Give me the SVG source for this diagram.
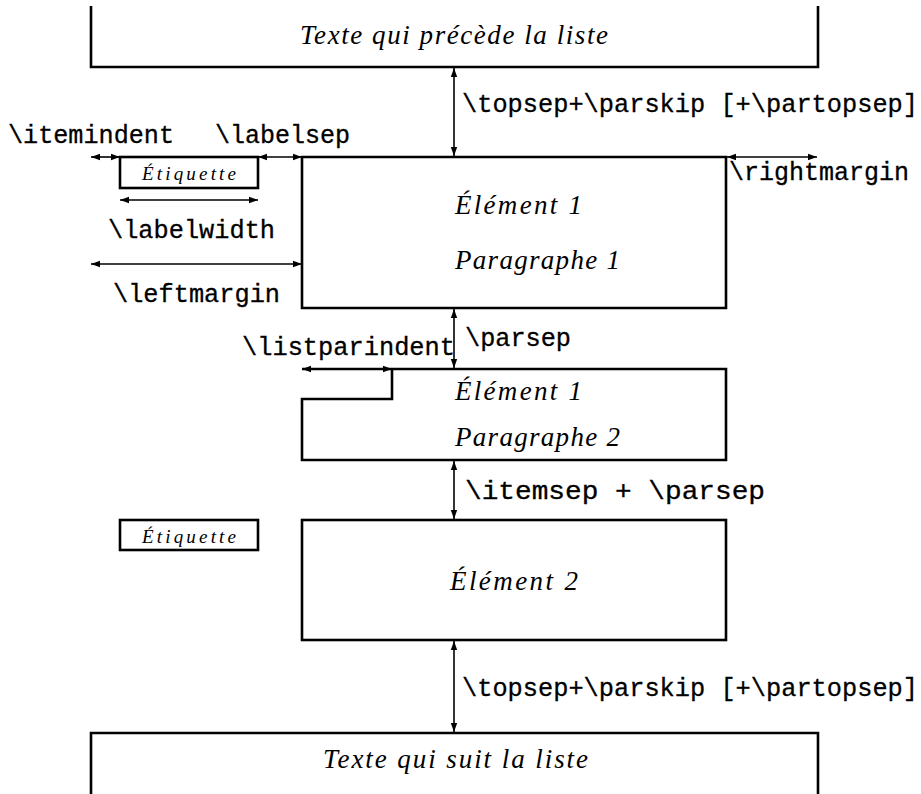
<svg xmlns="http://www.w3.org/2000/svg" width="921" height="794" viewBox="0 0 921 794">
<defs>
<marker id="ah" markerUnits="userSpaceOnUse" markerWidth="10" markerHeight="8" refX="9" refY="4" orient="auto-start-reverse">
<path d="M0,0.8 L9,4 L0,7.2 Z" fill="#000"/>
</marker>
</defs>
<style>
.box{fill:none;stroke:#000;stroke-width:2.6}
.arr{fill:none;stroke:#000;stroke-width:1.6;marker-start:url(#ah);marker-end:url(#ah)}
.tt{font-family:"Liberation Mono","DejaVu Sans Mono",monospace;font-size:25px;fill:#000;stroke:#000;stroke-width:0.3}
.it{font-family:"Liberation Serif","DejaVu Serif",serif;font-style:italic;font-size:27px;fill:#000}
.sm{font-family:"Liberation Serif","DejaVu Serif",serif;font-style:italic;font-size:19px;fill:#000}
</style>
<rect width="921" height="794" fill="#fff"/>

<g id="texte-precede">
<path class="box" d="M91,6 V67 H818 V6"/>
<text class="it" x="300" y="44" textLength="308" lengthAdjust="spacing">Texte qui précède la liste</text>
</g>

<g id="etiquette1">
<rect class="box" x="120" y="157" width="138" height="31"/>
<text class="sm" x="142" y="180" textLength="94" lengthAdjust="spacing">Étiquette</text>
</g>

<g id="element1-par1">
<path class="box" d="M302,157 H726 V308 H302 Z"/>
<text class="it" x="455" y="214" textLength="127" lengthAdjust="spacing">Élément 1</text>
<text class="it" x="455" y="269" textLength="165" lengthAdjust="spacing">Paragraphe 1</text>
</g>

<g id="element1-par2">
<path class="box" d="M302,369 H726 V460 H302 V399 H392 V369"/>
<text class="it" x="455" y="400" textLength="127" lengthAdjust="spacing">Élément 1</text>
<text class="it" x="455" y="446" textLength="165" lengthAdjust="spacing">Paragraphe 2</text>
</g>

<g id="etiquette2">
<rect class="box" x="120" y="520" width="138" height="30"/>
<text class="sm" x="142" y="543" textLength="94" lengthAdjust="spacing">Étiquette</text>
</g>

<g id="element2">
<rect class="box" x="302" y="520" width="424" height="120"/>
<text class="it" x="450" y="590" textLength="128" lengthAdjust="spacing">Élément 2</text>
</g>

<g id="texte-suit">
<path class="box" d="M91,794 V733 H818 V794"/>
<text class="it" x="323" y="768" textLength="265" lengthAdjust="spacing">Texte qui suit la liste</text>
</g>

<g id="connectors">
<line class="arr" x1="454" y1="68" x2="454" y2="156"/>
<line class="arr" x1="91" y1="157" x2="120" y2="157"/>
<line class="arr" x1="258" y1="157" x2="302" y2="157"/>
<line class="arr" x1="120" y1="200" x2="258" y2="200"/>
<line class="arr" x1="91" y1="264" x2="302" y2="264"/>
<line class="arr" x1="727" y1="157" x2="817" y2="157"/>
<line class="arr" x1="454" y1="309" x2="454" y2="368"/>
<line class="arr" x1="302" y1="369" x2="392" y2="369"/>
<line class="arr" x1="454" y1="461" x2="454" y2="519"/>
<line class="arr" x1="454" y1="641" x2="454" y2="732"/>
</g>

<g id="labels">
<text class="tt" x="462" y="112" textLength="456" lengthAdjust="spacingAndGlyphs">\topsep+\parskip [+\partopsep]</text>
<text class="tt" x="8" y="143" textLength="166" lengthAdjust="spacingAndGlyphs">\itemindent</text>
<text class="tt" x="215" y="143" textLength="135" lengthAdjust="spacingAndGlyphs">\labelsep</text>
<text class="tt" x="729" y="180" textLength="180" lengthAdjust="spacingAndGlyphs">\rightmargin</text>
<text class="tt" x="108" y="238" textLength="167" lengthAdjust="spacingAndGlyphs">\labelwidth</text>
<text class="tt" x="113" y="302" textLength="167" lengthAdjust="spacingAndGlyphs">\leftmargin</text>
<text class="tt" x="465" y="346" textLength="106" lengthAdjust="spacingAndGlyphs">\parsep</text>
<text class="tt" x="242" y="355" textLength="213" lengthAdjust="spacingAndGlyphs">\listparindent</text>
<text class="tt" x="465" y="499" textLength="300" lengthAdjust="spacingAndGlyphs">\itemsep + \parsep</text>
<text class="tt" x="462" y="696" textLength="456" lengthAdjust="spacingAndGlyphs">\topsep+\parskip [+\partopsep]</text>
</g>
</svg>
